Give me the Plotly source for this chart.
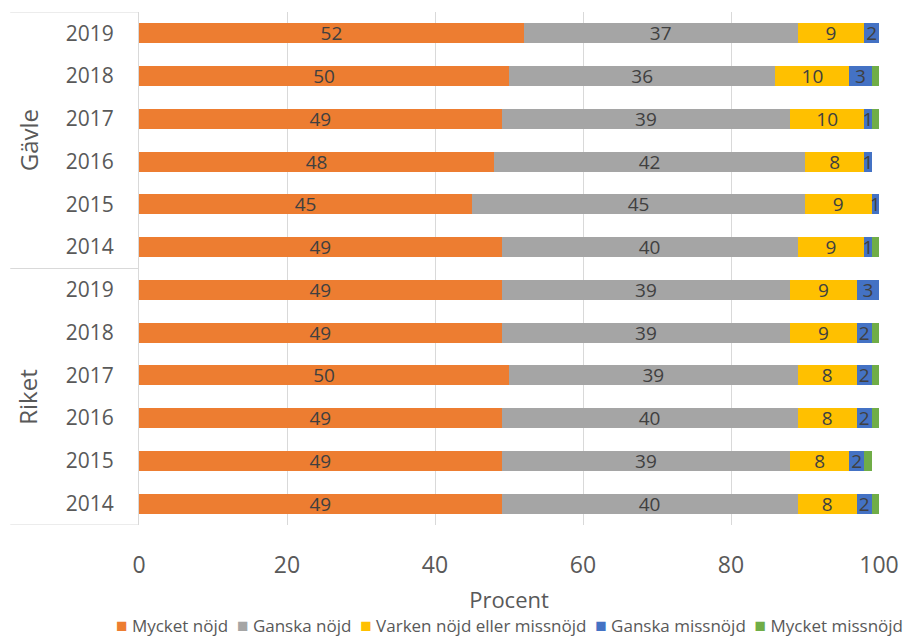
import plotly.graph_objects as go

# Survey results: share of respondents (%) per answer, by area and year
groups = ["Gävle", "Riket"]
years = ["2019", "2018", "2017", "2016", "2015", "2014"]

series_names = [
    "Mycket nöjd",
    "Ganska nöjd",
    "Varken nöjd eller missnöjd",
    "Ganska missnöjd",
    "Mycket missnöjd",
]

# Rows ordered Gävle 2019..2014, then Riket 2019..2014
mycket_nojd = [52, 50, 49, 48, 45, 49, 49, 49, 50, 49, 49, 49]
ganska_nojd = [37, 36, 39, 42, 45, 40, 39, 39, 39, 40, 39, 40]
varken = [9, 10, 10, 8, 9, 9, 9, 9, 8, 8, 8, 8]
ganska_missnojd = [2, 3, 1, 1, 1, 1, 3, 2, 2, 2, 2, 2]
mycket_missnojd = [0, 1, 1, 0, 0, 1, 0, 1, 1, 1, 1, 1]

colors = ["#ED7D31", "#A5A5A5", "#FFC000", "#4472C4", "#70AD47"]
show_labels = [True, True, True, True, False]

values = [mycket_nojd, ganska_nojd, varken, ganska_missnojd, mycket_missnojd]

n_rows = len(groups) * len(years)
positions = list(range(n_rows))
tick_text = years * len(groups)

FONT = "Open Sans"
TXT = "#404040"
AXIS_TXT = "#595959"
GRID = "#D9D9D9"

fig = go.Figure()
for name, vals, col, lab in zip(series_names, values, colors, show_labels):
    fig.add_trace(go.Bar(
        name=name,
        x=vals,
        y=positions,
        orientation="h",
        marker=dict(color=col, line=dict(width=0)),
        text=[str(v) for v in vals] if lab else None,
        textposition="inside" if lab else "none",
        insidetextanchor="middle",
        textangle=0,
        constraintext="none",
        textfont=dict(family=FONT, size=19, color=TXT),
        cliponaxis=False,
        showlegend=False,
        hoverinfo="x+name",
    ))

# Group dividers and group names to the left of the year labels
shapes = []
for k in range(len(groups) + 1):
    yb = k * len(years) - 0.5
    shapes.append(dict(type="line", xref="paper", yref="y",
                       x0=-0.174, x1=0, y0=yb, y1=yb,
                       line=dict(color=GRID, width=1)))

annotations = []
for k, g in enumerate(groups):
    yc = k * len(years) + (len(years) - 1) / 2
    annotations.append(dict(text=g, xref="paper", yref="y", x=0, y=yc,
                            xshift=-111, xanchor="center", yanchor="middle",
                            showarrow=False, textangle=-90,
                            font=dict(family=FONT, size=24, color=AXIS_TXT)))

# Compact one-line key below the axis title
key_items = [
    f'<span style="color:{c};font-size:19px">■</span> {n}'
    for n, c in zip(series_names, colors)
]
annotations.append(dict(text="&nbsp;&nbsp;".join(key_items),
                        xref="paper", yref="paper",
                        x=0.5, y=-0.195, xanchor="center", yanchor="middle",
                        showarrow=False,
                        font=dict(family=FONT, size=17, color=AXIS_TXT)))

fig.update_layout(
    width=912, height=639,
    margin=dict(l=139, r=33, t=12, b=114),
    paper_bgcolor="white", plot_bgcolor="white",
    barmode="stack", bargap=0.53,
    font=dict(family=FONT, color=AXIS_TXT),
    uniformtext=dict(mode="show", minsize=19),
    showlegend=False,
    shapes=shapes,
    annotations=annotations,
    xaxis=dict(range=[0, 100], dtick=20, showgrid=True, gridcolor=GRID,
               gridwidth=1, zeroline=False, showline=False, ticks="",
               tickfont=dict(family=FONT, size=23, color=AXIS_TXT),
               ticklabelstandoff=24,
               title=dict(text="Procent", standoff=13,
                          font=dict(family=FONT, size=22, color=AXIS_TXT))),
    yaxis=dict(tickmode="array", tickvals=positions, ticktext=tick_text,
               range=[n_rows - 0.5, -0.5], showgrid=False, zeroline=False,
               showline=True, linecolor=GRID, linewidth=1, ticks="",
               ticklabelstandoff=20,
               tickfont=dict(family=FONT, size=21, color=AXIS_TXT)),
)

fig.write_html("out.html")
